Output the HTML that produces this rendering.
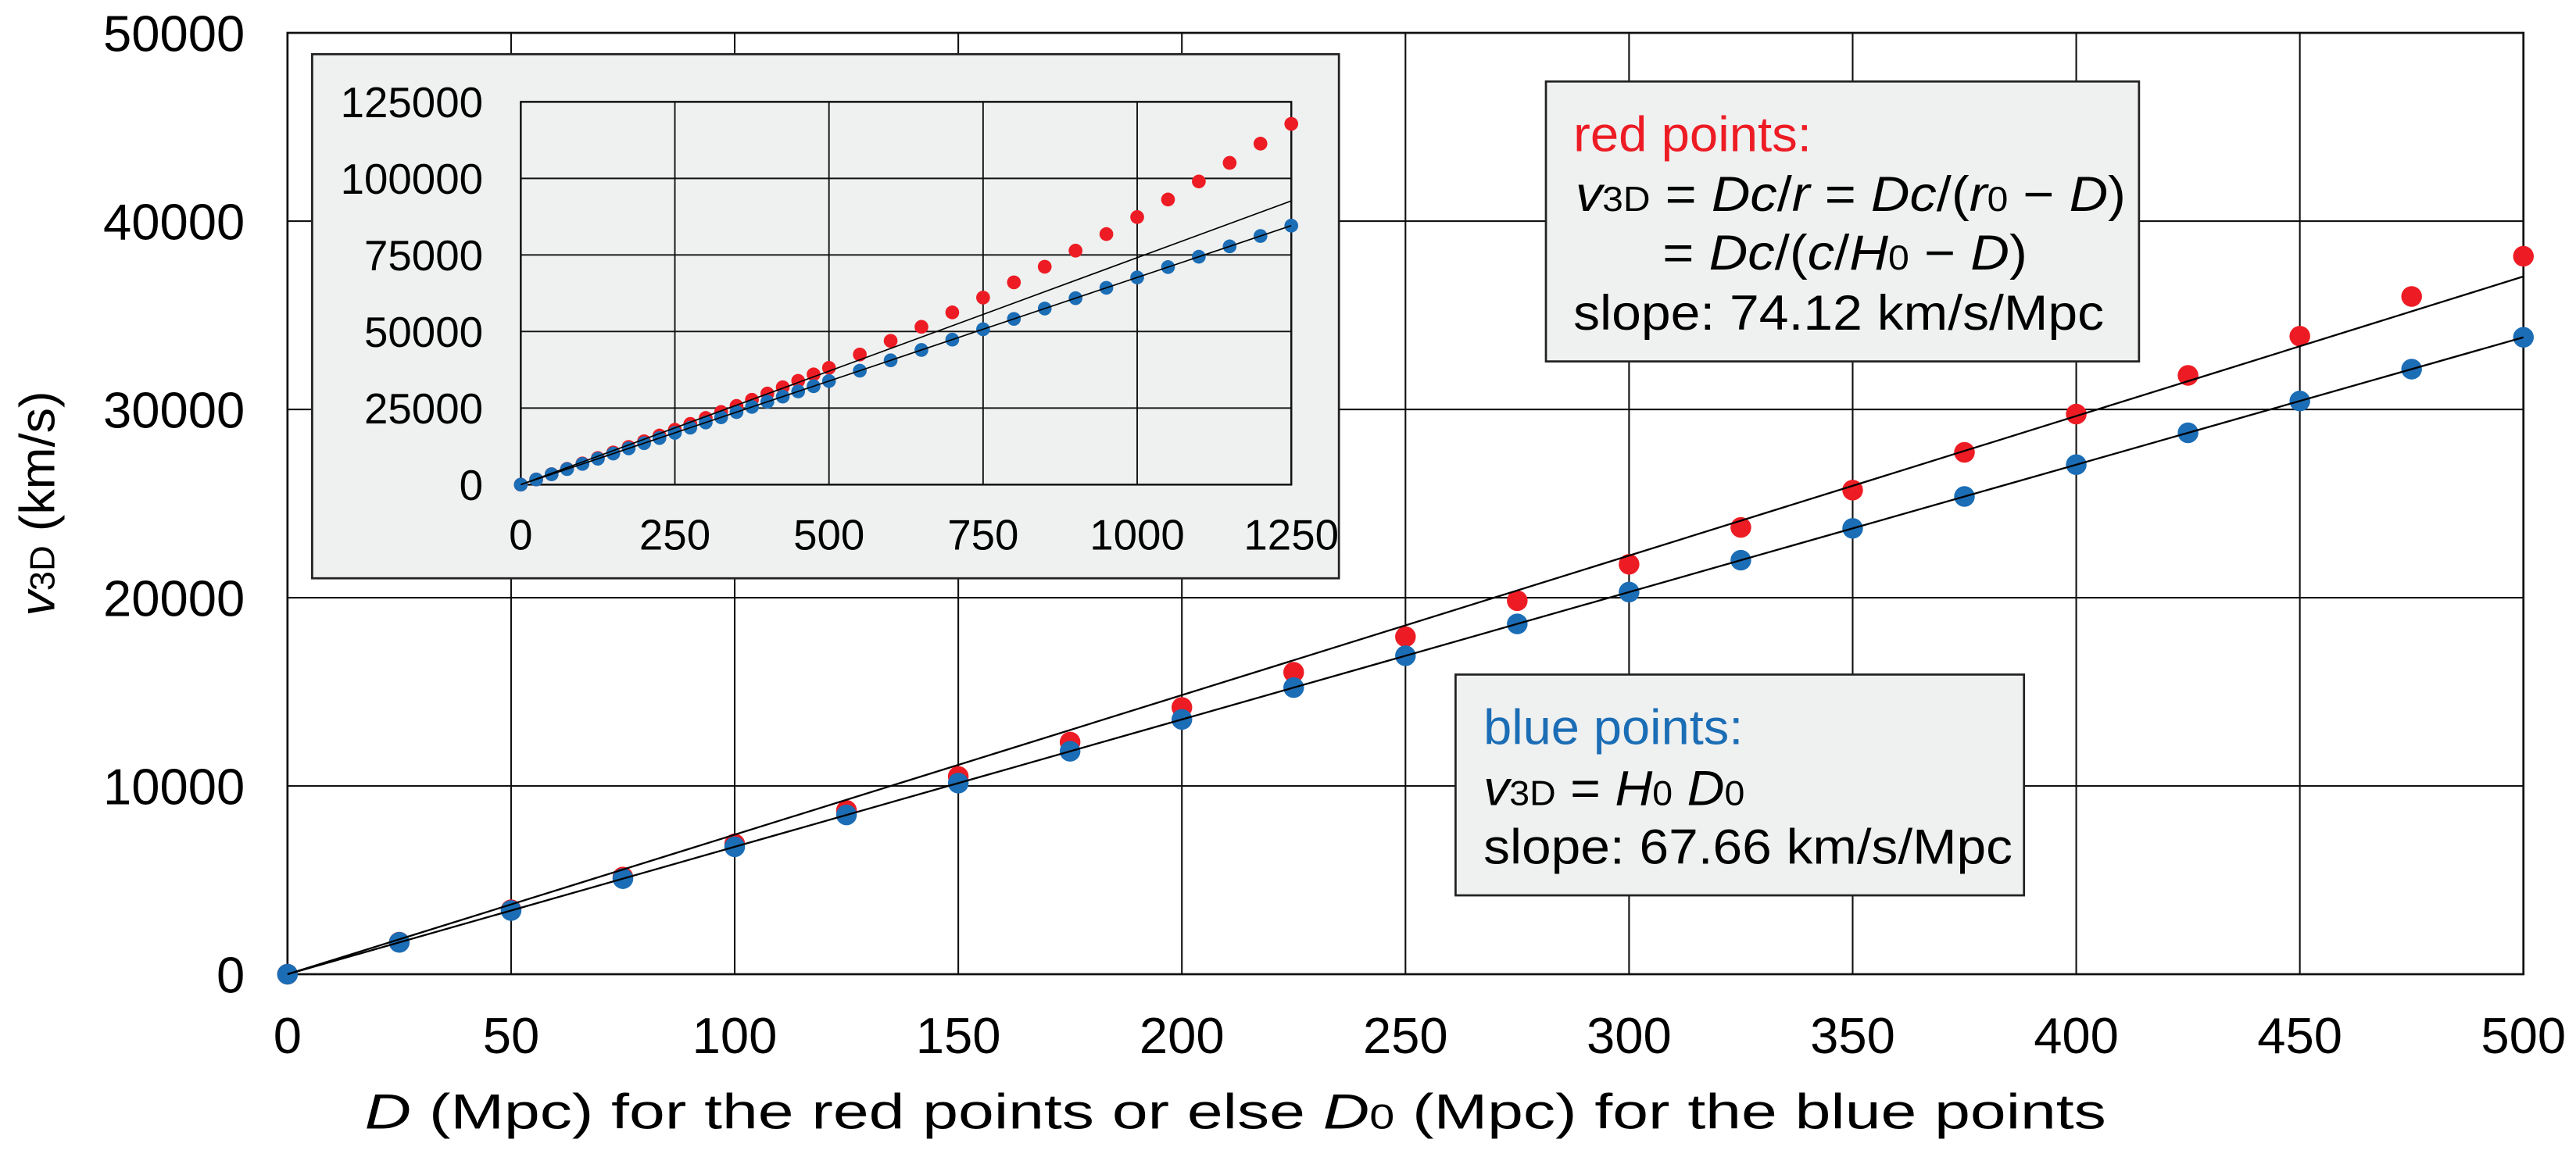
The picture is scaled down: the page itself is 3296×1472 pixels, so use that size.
<!DOCTYPE html>
<html><head><meta charset="utf-8"><style>
html,body{margin:0;padding:0;background:#fff;}
svg{display:block;font-family:"Liberation Sans",Arial,sans-serif;}
</style></head><body>
<svg id="chart" width="3296" height="1472" viewBox="0 0 1568 700" preserveAspectRatio="none" xmlns="http://www.w3.org/2000/svg">
<g id="main"></g>
<g id="inset"></g>
<g>
<rect x="941" y="49.6" width="361" height="170.4" fill="#eff0f0" stroke="#222" stroke-width="1.3"/>
<text x="957.7" y="92" font-size="30" fill="#ed1c24" textLength="145" lengthAdjust="spacingAndGlyphs">red points:</text>
<text x="959" y="128.5" font-size="30" fill="#000" textLength="335" lengthAdjust="spacingAndGlyphs"><tspan font-style="italic">v</tspan><tspan font-size="21">3D</tspan> = <tspan font-style="italic">Dc</tspan>/<tspan font-style="italic">r</tspan> = <tspan font-style="italic">Dc</tspan>/(<tspan font-style="italic">r</tspan><tspan font-size="21">0</tspan> − <tspan font-style="italic">D</tspan>)</text>
<text x="1012" y="164" font-size="30" fill="#000" textLength="222" lengthAdjust="spacingAndGlyphs">= <tspan font-style="italic">Dc</tspan>/(<tspan font-style="italic">c</tspan>/<tspan font-style="italic">H</tspan><tspan font-size="21">0</tspan> − <tspan font-style="italic">D</tspan>)</text>
<text x="957.7" y="200.7" font-size="30" fill="#000" textLength="323" lengthAdjust="spacingAndGlyphs">slope:  74.12 km/s/Mpc</text>
</g>
<g>
<rect x="886" y="410.6" width="346" height="134.4" fill="#eff0f0" stroke="#222" stroke-width="1.3"/>
<text x="903" y="453" font-size="30" fill="#1b6db5" textLength="158" lengthAdjust="spacingAndGlyphs">blue points:</text>
<text x="903" y="490" font-size="30" fill="#000" textLength="159" lengthAdjust="spacingAndGlyphs"><tspan font-style="italic">v</tspan><tspan font-size="21">3D</tspan> = <tspan font-style="italic">H</tspan><tspan font-size="21">0</tspan> <tspan font-style="italic">D</tspan><tspan font-size="21">0</tspan></text>
<text x="903" y="525.7" font-size="30" fill="#000" textLength="322" lengthAdjust="spacingAndGlyphs">slope:  67.66 km/s/Mpc</text>
</g>
<text x="222" y="687" font-size="30" textLength="1060" lengthAdjust="spacingAndGlyphs"><tspan font-style="italic">D</tspan> (Mpc) for the red points or else <tspan font-style="italic">D</tspan><tspan font-size="21">0</tspan> (Mpc) for the blue points</text>
<text transform="translate(33,375) rotate(-90)" font-size="30" textLength="137" lengthAdjust="spacingAndGlyphs"><tspan font-style="italic">v</tspan><tspan font-size="21">3D</tspan> (km/s)</text>
</svg>
<script>
// main chart data
const mainXTicks = [0,50,100,150,200,250,300,350,400,450,500];
const mainYTicks = [0,10000,20000,30000,40000,50000];
const mainD = [0,25,50,75,100,125,150,175,200,225,250,275,300,325,350,375,400,425,450,475,500];
const mainRed = [0,1701,3422,5162,6922,8703,10505,12328,14172,16038,17926,19838,21772,23730,25712,27718,29750,31806,33889,35998,38133];
const mainBlue = [0,1692,3383,5075,6766,8458,10149,11841,13532,15224,16915,18607,20298,21990,23681,25373,27064,28756,30447,32139,33830];
// inset data
const insetXTicks = [0,250,500,750,1000,1250];
const insetYTicks = [0,25000,50000,75000,100000,125000];
const insetD = [0,25,50,75,100,125,150,175,200,225,250,275,300,325,350,375,400,425,450,475,500,550,600,650,700,750,800,850,900,950,1000,1050,1100,1150,1200,1250];
const insetRed = [0,1701,3422,5162,6922,8703,10505,12328,14172,16038,17926,19838,21772,23730,25712,27718,29750,31806,33889,35998,38133,42487,46955,51540,56248,61085,66055,71163,76415,81819,87381,93107,99005,105082,111348,117811];
const insetBlue = [0,1692,3383,5075,6766,8458,10149,11841,13532,15224,16915,18607,20298,21990,23681,25373,27064,28756,30447,32139,33830,37213,40596,43979,47362,50745,54128,57511,60894,64277,67660,71043,74426,77809,81192,84575];
const slopes = [74.12, 67.66];

const NS = "http://www.w3.org/2000/svg";
function mk(tag, attrs, parent){const e=document.createElementNS(NS,tag);for(const k in attrs)e.setAttribute(k,attrs[k]);parent.appendChild(e);return e;}

function drawPlot(g, o){
  const sx = v => o.x0 + (v - o.xmin)/(o.xmax - o.xmin)*(o.x1 - o.x0);
  const sy = v => o.y0 - (v - o.ymin)/(o.ymax - o.ymin)*(o.y0 - o.y1);
  o.xTicks.forEach(t=>{
    const l = mk('line',{x1:sx(t),x2:sx(t),y1:o.y1,y2:o.y0,stroke:'#111','stroke-width':o.gw},g);
    
    
    const tx = mk('text',{x:sx(t),y:o.xlabY,'text-anchor':'middle','font-size':o.fs},g);
    tx.textContent = t;
    
    
  });
  o.yTicks.forEach(t=>{
    const l = mk('line',{x1:o.x0,x2:o.x1,y1:sy(t),y2:sy(t),stroke:'#111','stroke-width':o.gw},g);
    
    
    const tx = mk('text',{x:o.ylabX,y:sy(t)+o.fs*0.36,'text-anchor':'end','font-size':o.fs},g);
    tx.textContent = t;
    
    
  });
  const fr = mk('rect',{x:o.x0,y:o.y1,width:o.x1-o.x0,height:o.y0-o.y1,fill:'none',stroke:'#111','stroke-width':o.gw*1.3},g);
  
  
  o.D.forEach((d,i)=>{
    const c = mk('circle',{cx:sx(d),cy:sy(o.red[i]),r:o.r,fill:'#ed1c24'},g);
    
    
  });
  o.D.forEach((d,i)=>{
    const c = mk('circle',{cx:sx(d),cy:sy(o.blue[i]),r:o.r,fill:'#1b6db5'},g);
    
    
  });
  slopes.forEach((s,i)=>{
    const l = mk('line',{x1:sx(0),y1:sy(0),x2:sx(o.xmax),y2:sy(s*o.xmax),stroke:'#000','stroke-width':o.lw},g);
    
    
  });
}

const gm = document.getElementById('main');
const ig = document.getElementById('inset');
drawPlot(gm,{x0:175,x1:1536,y0:593,y1:20,xmin:0,xmax:500,ymin:0,ymax:50000,
  xTicks:mainXTicks,yTicks:mainYTicks,D:mainD,red:mainRed,blue:mainBlue,
  gw:1,lw:1.1,r:6.3,fs:31,xlabY:641,ylabX:149});
const bg = mk('rect',{x:190,y:33,width:625,height:319,fill:'#eff0f0',stroke:'#222','stroke-width':1.3},ig);


drawPlot(ig,{x0:317,x1:786,y0:295,y1:62,xmin:0,xmax:1250,ymin:0,ymax:125000,
  xTicks:insetXTicks,yTicks:insetYTicks,D:insetD,red:insetRed,blue:insetBlue,
  gw:0.9,lw:0.8,r:4.2,fs:26,xlabY:334.5,ylabX:294});
</script>
</body></html>
